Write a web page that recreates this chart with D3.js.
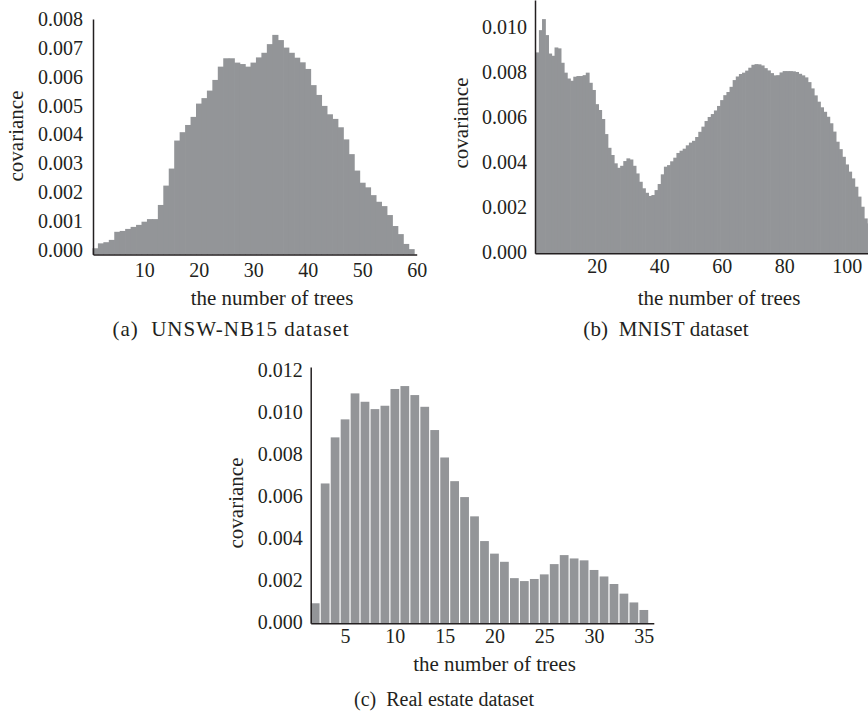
<!DOCTYPE html>
<html>
<head>
<meta charset="utf-8">
<script src="https://cdn.jsdelivr.net/npm/d3@7"></script>
<style>
  body { margin: 0; background: #fff; }
  svg { display: block; }
  text { font-family: "Liberation Serif", "Times New Roman", serif; fill: #231f20; }
</style>
</head>
<body>
<div id="chart"></div>
<script>
// (a) UNSW-NB15: covariance for 1..59 trees
const unswStart = 1;
const unswValues = [
  0.00006, 0.00023, 0.00027, 0.00035, 0.00063, 0.00066, 0.00073, 0.00080, 0.00087, 0.00098,
  0.00107, 0.00107, 0.00156, 0.00223, 0.00282, 0.00379, 0.00408, 0.00433, 0.00461, 0.00507,
  0.00526, 0.00552, 0.00589, 0.00635, 0.00664, 0.00664, 0.00649, 0.00644, 0.00635, 0.00649,
  0.00667, 0.00683, 0.00713, 0.00745, 0.00727, 0.00701, 0.00683, 0.00666, 0.00650, 0.00627,
  0.00571, 0.00537, 0.00499, 0.00470, 0.00454, 0.00425, 0.00383, 0.00332, 0.00275, 0.00233,
  0.00217, 0.00190, 0.00167, 0.00152, 0.00121, 0.00083, 0.00055, 0.00021, 0.00003
];
const unswXTicks = [10, 20, 30, 40, 50, 60];
const unswYTicks = [0, 0.001, 0.002, 0.003, 0.004, 0.005, 0.006, 0.007, 0.008];

// (b) MNIST: covariance for 1..107 trees (right edge cut by the figure)
const mnistStart = 1;
const mnistValues = [
  0.00886, 0.00985, 0.01034, 0.00963, 0.00881, 0.00871, 0.00908, 0.00904, 0.00840, 0.00796,
  0.00770, 0.00760, 0.00778, 0.00781, 0.00781, 0.00785, 0.00796, 0.00751, 0.00719, 0.00656,
  0.00630, 0.00590, 0.00523, 0.00462, 0.00430, 0.00393, 0.00373, 0.00382, 0.00403, 0.00415,
  0.00410, 0.00382, 0.00348, 0.00311, 0.00282, 0.00262, 0.00248, 0.00252, 0.00274, 0.00301,
  0.00344, 0.00378, 0.00385, 0.00402, 0.00418, 0.00439, 0.00449, 0.00458, 0.00473, 0.00485,
  0.00493, 0.00510, 0.00533, 0.00556, 0.00581, 0.00599, 0.00612, 0.00628, 0.00648, 0.00674,
  0.00696, 0.00710, 0.00733, 0.00763, 0.00779, 0.00790, 0.00796, 0.00805, 0.00818, 0.00831,
  0.00834, 0.00833, 0.00828, 0.00816, 0.00806, 0.00794, 0.00784, 0.00785, 0.00797, 0.00803,
  0.00803, 0.00803, 0.00802, 0.00799, 0.00791, 0.00784, 0.00775, 0.00754, 0.00726, 0.00695,
  0.00667, 0.00642, 0.00622, 0.00600, 0.00571, 0.00534, 0.00489, 0.00456, 0.00422, 0.00388,
  0.00356, 0.00326, 0.00289, 0.00245, 0.00200, 0.00148, 0.00126
];
const mnistXTicks = [20, 40, 60, 80, 100];
const mnistYTicks = [0, 0.002, 0.004, 0.006, 0.008, 0.010];

// (c) Real estate: covariance for 2..35 trees
const estateStart = 2;
const estateValues = [
  0.00088, 0.00660, 0.00880, 0.00966, 0.01090, 0.01050, 0.01015, 0.01031, 0.01111, 0.01125,
  0.01082, 0.01026, 0.00915, 0.00784, 0.00671, 0.00595, 0.00503, 0.00385, 0.00325, 0.00286,
  0.00208, 0.00194, 0.00204, 0.00226, 0.00275, 0.00318, 0.00302, 0.00293, 0.00247, 0.00216,
  0.00180, 0.00134, 0.00092, 0.00056
];
const estateXTicks = [5, 10, 15, 20, 25, 30, 35];
const estateYTicks = [0, 0.002, 0.004, 0.006, 0.008, 0.010, 0.012];

const barColor = "#939598";
const axisColor = "#231f20";
const tickFont = 20;
const titleFont = 21;

const svg = d3.select("#chart").append("svg")
  .attr("width", 868)
  .attr("height", 714);

function drawPanel(p) {
  const g = svg.append("g");

  const x = d3.scaleLinear().domain(p.xDomain).range(p.xRange);
  const y = d3.scaleLinear().domain(p.yDomain).range(p.yRange);
  const step = x(1) - x(0);
  const base = p.yRange[0];

  const data = p.values.map((v, i) => ({ n: p.start + i, v }));

  // touching bars get a small overlap so no seams show between them
  const overlap = p.gap > 0 ? 0 : 0.7;

  g.selectAll("rect")
    .data(data)
    .enter()
    .append("rect")
    .attr("x", d => x(d.n - 0.5) + p.gap / 2)
    .attr("width", step - p.gap + overlap)
    .attr("y", d => y(d.v))
    .attr("height", d => base - y(d.v))
    .attr("fill", barColor);

  const yAxis = g.append("g")
    .attr("transform", `translate(${p.xRange[0]},0)`)
    .call(d3.axisLeft(y).tickValues(p.yTicks).tickFormat(d3.format(".3f"))
      .tickSize(0).tickSizeOuter(0).tickPadding(p.yPad));

  const xAxis = g.append("g")
    .attr("transform", `translate(0,${base})`)
    .call(d3.axisBottom(x).tickValues(p.xTicks).tickFormat(d3.format("d"))
      .tickSize(0).tickSizeOuter(0).tickPadding(p.xPad));

  [yAxis, xAxis].forEach(a => {
    a.select(".domain").attr("stroke", axisColor).attr("stroke-width", 1.5);
    a.selectAll("text")
      .style("font-family", "Liberation Serif, serif")
      .style("font-size", tickFont + "px")
      .attr("fill", axisColor);
  });

  // axis titles
  g.append("text")
    .attr("x", p.xTitle[0])
    .attr("y", p.xTitle[1])
    .attr("text-anchor", "middle")
    .style("font-size", titleFont + "px")
    .text("the number of trees");

  g.append("text")
    .attr("transform", `translate(${p.yTitle[0]},${p.yTitle[1]}) rotate(-90)`)
    .attr("text-anchor", "middle")
    .style("font-size", titleFont + "px")
    .text("covariance");

  // caption
  g.append("text")
    .attr("x", p.caption[0])
    .attr("y", p.caption[1])
    .attr("text-anchor", "middle")
    .style("font-size", p.capSize + "px")
    .style("letter-spacing", p.capSpacing + "px")
    .attr("xml:space", "preserve")
    .text(p.label);
}

drawPanel({
  values: unswValues, start: unswStart,
  xDomain: [0.6, 60], xRange: [93, 416.7],
  yDomain: [-0.000156, 0.008], yRange: [254.5, 19],
  xTicks: unswXTicks, yTicks: unswYTicks,
  gap: 0, yPad: 10, xPad: 8,
  xTitle: [272, 305], yTitle: [23, 136], caption: [231, 336],
  capSize: 21, capSpacing: 1.0,
  label: "(a)  UNSW-NB15 dataset"
});

drawPanel({
  values: mnistValues, start: mnistStart,
  xDomain: [0.25, 107], xRange: [535, 868.6],
  yDomain: [-0.00007, 0.01119], yRange: [253.3, 0],
  xTicks: mnistXTicks, yTicks: mnistYTicks,
  gap: 0, yPad: 8, xPad: 5.5,
  xTitle: [719, 305], yTitle: [468, 123], caption: [666, 336],
  capSize: 21, capSpacing: 0.1,
  label: "(b)  MNIST dataset"
});

drawPanel({
  values: estateValues, start: estateStart,
  xDomain: [1.55, 36], xRange: [310.7, 653.8],
  yDomain: [-0.000076, 0.01216], yRange: [623.3, 367],
  xTicks: estateXTicks, yTicks: estateYTicks,
  gap: 1.2, yPad: 8, xPad: 5.5,
  xTitle: [494.5, 671], yTitle: [243, 503], caption: [444, 706],
  capSize: 20, capSpacing: 0,
  label: "(c)  Real estate dataset"
});
</script>
</body>
</html>
